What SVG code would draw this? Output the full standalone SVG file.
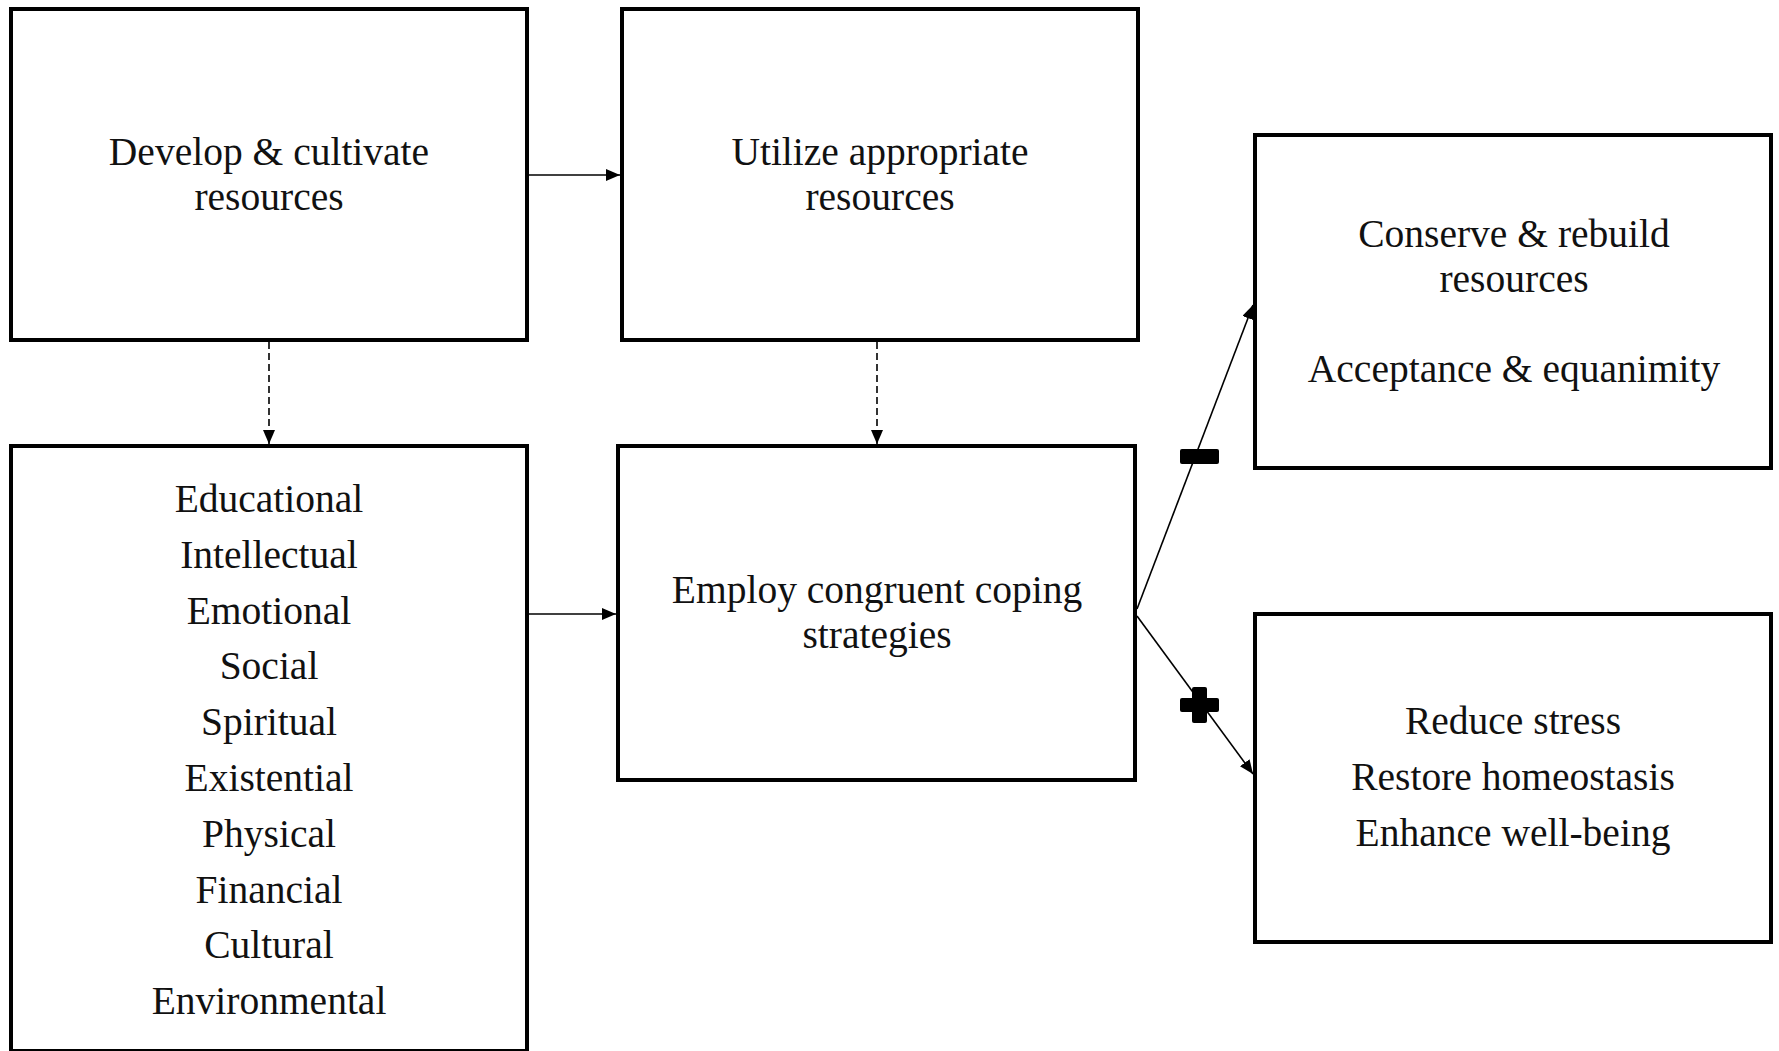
<svg xmlns="http://www.w3.org/2000/svg" width="1779" height="1051" viewBox="0 0 1779 1051">
<style>
.box{fill:#fff;stroke:#000;stroke-width:4}
.t{font-family:"Liberation Serif","Times New Roman",serif;font-size:39.5px;fill:#111;text-anchor:middle}
.c{stroke:#000;stroke-width:1.6;fill:none}
.d{stroke-dasharray:7,4}
.sign{fill:#000}
</style>
<defs>
<marker id="ah" markerUnits="userSpaceOnUse" markerWidth="14" markerHeight="12" refX="14" refY="6" orient="auto">
<path d="M0,0 L14,6 L0,12 z" fill="#000"/>
</marker>
</defs>
<rect width="1779" height="1051" fill="#fff"/>
<g id="connectors">
<line class="c" x1="529" y1="175" x2="620" y2="175" marker-end="url(#ah)"/>
<line class="c" x1="529" y1="614" x2="616" y2="614" marker-end="url(#ah)"/>
<line class="c d" x1="269" y1="342" x2="269" y2="444" marker-end="url(#ah)"/>
<line class="c d" x1="877" y1="342" x2="877" y2="444" marker-end="url(#ah)"/>
<line class="c" x1="1137" y1="609" x2="1253" y2="305" marker-end="url(#ah)"/>
<line class="c" x1="1137" y1="616" x2="1253" y2="774" marker-end="url(#ah)"/>
<rect class="sign" x="1180" y="449" width="39" height="15" rx="2"/>
<g id="plus-sign">
<rect class="sign" x="1180" y="698" width="39" height="14" rx="2"/>
<rect class="sign" x="1192" y="687" width="15" height="36" rx="2"/>
</g>
</g>
<g id="node-develop">
<rect class="box" x="11" y="9" width="516" height="331"/>
<text class="t" x="269" y="165">Develop &amp; cultivate</text>
<text class="t" x="269" y="210">resources</text>
</g>
<g id="node-utilize">
<rect class="box" x="622" y="9" width="516" height="331"/>
<text class="t" x="880" y="165">Utilize appropriate</text>
<text class="t" x="880" y="210">resources</text>
</g>
<g id="node-conserve">
<rect class="box" x="1255" y="135" width="516" height="333"/>
<text class="t" x="1514" y="247">Conserve &amp; rebuild</text>
<text class="t" x="1514" y="292">resources</text>
<text class="t" x="1514" y="382">Acceptance &amp; equanimity</text>
</g>
<g id="node-resources">
<rect class="box" x="11" y="446" width="516" height="605"/>
<text class="t" x="269" y="512">Educational</text>
<text class="t" x="269" y="568">Intellectual</text>
<text class="t" x="269" y="624">Emotional</text>
<text class="t" x="269" y="679">Social</text>
<text class="t" x="269" y="735">Spiritual</text>
<text class="t" x="269" y="791">Existential</text>
<text class="t" x="269" y="847">Physical</text>
<text class="t" x="269" y="903">Financial</text>
<text class="t" x="269" y="958">Cultural</text>
<text class="t" x="269" y="1014">Environmental</text>
</g>
<g id="node-employ">
<rect class="box" x="618" y="446" width="517" height="334"/>
<text class="t" x="877" y="603">Employ congruent coping</text>
<text class="t" x="877" y="648">strategies</text>
</g>
<g id="node-reduce">
<rect class="box" x="1255" y="614" width="516" height="328"/>
<text class="t" x="1513" y="734">Reduce stress</text>
<text class="t" x="1513" y="790">Restore homeostasis</text>
<text class="t" x="1513" y="846">Enhance well-being</text>
</g>
</svg>
